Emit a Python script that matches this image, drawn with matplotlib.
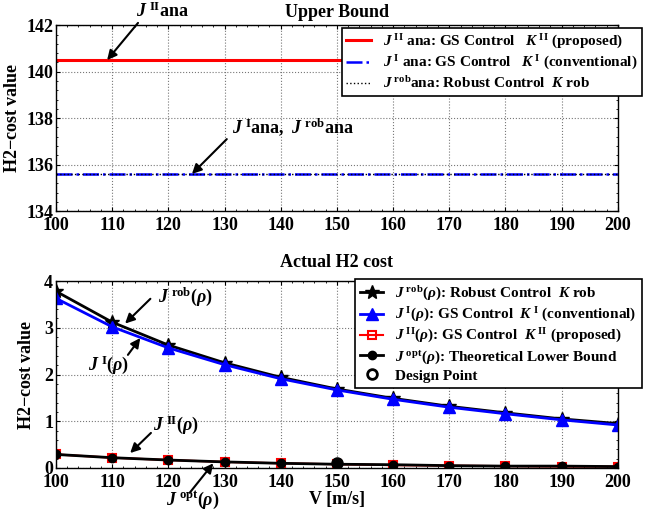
import numpy as np
import matplotlib
matplotlib.use('Agg')
import matplotlib.pyplot as plt
from matplotlib.ticker import AutoMinorLocator

# Fonte parecida com Times em negrito
plt.rcParams['font.family'] = 'Liberation Serif'
plt.rcParams['font.weight'] = 'bold'
plt.rcParams['axes.labelweight'] = 'bold'
plt.rcParams['axes.titleweight'] = 'bold'
plt.rcParams['mathtext.fontset'] = 'custom'
plt.rcParams['mathtext.rm'] = 'Liberation Serif:bold'
plt.rcParams['mathtext.it'] = 'Liberation Serif:bold:italic'
plt.rcParams['mathtext.bf'] = 'Liberation Serif:bold'

# Dados
V = [100, 110, 120, 130, 140, 150, 160, 170, 180, 190, 200]
J_II_ana = 140.5
J_I_ana = 135.6
J_rob_ana = 135.6

J_rob = [3.78, 3.12, 2.63, 2.25, 1.94, 1.69, 1.49, 1.32, 1.18, 1.05, 0.95]
J_I = [3.63, 3.02, 2.57, 2.21, 1.91, 1.67, 1.47, 1.30, 1.16, 1.03, 0.92]
J_II = [0.29, 0.22, 0.17, 0.13, 0.10, 0.08, 0.06, 0.05, 0.04, 0.03, 0.03]
J_opt = [0.29, 0.22, 0.17, 0.13, 0.10, 0.08, 0.07, 0.05, 0.04, 0.04, 0.03]
V_design = [150]
J_design = [0.10]

fig = plt.figure(figsize=(6.61, 5.15), dpi=100)
ax1 = fig.add_axes([0.0847, 0.590, 0.850, 0.361])
ax2 = fig.add_axes([0.0847, 0.0913, 0.850, 0.363])

def formata(ax):
  ax.grid(True, linestyle=':', color='#777777', linewidth=0.8)
  ax.tick_params(labelsize=13, direction='in', length=3, pad=2, top=True, right=True)
  ax.tick_params(axis='x', pad=4)
  ax.xaxis.set_minor_locator(AutoMinorLocator(5))
  ax.yaxis.set_minor_locator(AutoMinorLocator(5))
  ax.tick_params(which='minor', direction='in', length=1.5, top=True, right=True)
  for s in ax.spines.values():
    s.set_linewidth(1.0)
  ax.set_xlim(100, 200)
  ax.set_xticks(np.arange(100, 201, 10))
  ax.set_ylabel('H2$-$cost value', fontsize=13)

def seta(ax, cauda, ponta):
  ax.annotate('', xy=ponta, xytext=cauda, annotation_clip=False,
              arrowprops=dict(arrowstyle='-|>', color='black', lw=1.5,
                              mutation_scale=14, shrinkA=0, shrinkB=0))

# Gráfico superior
n = len(V)
ax1.plot(V, [J_II_ana]*n, color='red', linewidth=2.2,
         label=r'$J^{\;\mathrm{II}}$ ana: GS Control   $K^{\;\mathrm{II}}$ (proposed)')
ax1.plot(V, [J_I_ana]*n, color='blue', linestyle='-.', linewidth=1.8,
         label=r'$J^{\;\mathrm{I}}$ ana: GS Control   $K^{\;\mathrm{I}}$ (conventional)')
ax1.plot(V, [J_rob_ana]*n, color='black', linestyle=':', linewidth=1.0,
         label=r'$J^{\;\mathrm{rob}}$ana: Robust Control  $K$ rob')
ax1.set_ylim(134, 142)
ax1.set_yticks([134, 136, 138, 140, 142])
formata(ax1)
ax1.yaxis.set_label_coords(-0.062, 0.5)
ax1.set_title('Upper Bound', fontsize=13, pad=6)
ax1.legend(loc='upper right', bbox_to_anchor=(1.043, 0.985), fontsize=11, frameon=True,
           fancybox=False, edgecolor='black', framealpha=1, handlelength=1.6,
           borderaxespad=0, labelspacing=0.2, borderpad=0.3).get_frame().set_linewidth(1.2)
ax1.text(119, 142.2, r'$J^{\;\mathrm{II}}$ana', fontsize=13, ha='center', va='bottom')
seta(ax1, (114.6, 142.1), (109.1, 140.5))
ax1.text(131.4, 137.15, r'$J^{\;\mathrm{I}}$ana,  $J^{\;\mathrm{rob}}$ana', fontsize=13,
         ha='left', va='bottom')
seta(ax1, (130.4, 137.1), (124.2, 135.6))

# Gráfico inferior
ax2.plot(V, J_rob, color='black', marker='*', markersize=10, linewidth=2,
         label=r'$J^{\;\mathrm{rob}}(\rho)$: Robust Control  $K$ rob')
ax2.plot(V, J_I, color='blue', marker='^', markersize=8, linewidth=2,
         label=r'$J^{\;\mathrm{I}}(\rho)$: GS Control  $K^{\;\mathrm{I}}$ (conventional)')
ax2.plot(V, J_II, color='red', marker='s', markersize=6, markerfacecolor='none',
         markeredgewidth=1.5, linewidth=1.5,
         label=r'$J^{\;\mathrm{II}}(\rho)$: GS Control  $K^{\;\mathrm{II}}$ (proposed)')
ax2.plot(V, J_opt, color='black', marker='o', markersize=6, linewidth=2,
         label=r'$J^{\;\mathrm{opt}}(\rho)$: Theoretical Lower Bound')
ax2.plot(V_design, J_design, linestyle='none', marker='o', markersize=7,
         markerfacecolor='none', markeredgecolor='black', markeredgewidth=2,
         label='Design Point')
ax2.set_ylim(0, 4)
ax2.set_yticks([0, 1, 2, 3, 4])
formata(ax2)
ax2.yaxis.set_label_coords(-0.037, 0.5)
ax2.set_title('Actual H2 cost', fontsize=13, pad=10)
ax2.set_xlabel('V [m/s]', fontsize=13, labelpad=0)
ax2.legend(loc='upper right', bbox_to_anchor=(1.043, 1.01), fontsize=11, frameon=True,
           fancybox=False, edgecolor='black', framealpha=1, handlelength=1.5,
           borderaxespad=0, labelspacing=0.2, borderpad=0.35).get_frame().set_linewidth(1.2)

ax2.text(118.2, 3.66, r'$J^{\;\mathrm{rob}}(\rho)$', fontsize=13, ha='left', va='center')
seta(ax2, (116.8, 3.62), (112.3, 3.09))
ax2.text(105.7, 2.2, r'$J^{\;\mathrm{I}}(\rho)$', fontsize=13, ha='left', va='center')
seta(ax2, (112.8, 2.42), (115.0, 2.78))
ax2.text(117.3, 0.92, r'$J^{\;\mathrm{II}}(\rho)$', fontsize=13, ha='left', va='center')
seta(ax2, (116.9, 0.75), (113.2, 0.32))
ax2.text(119.6, -0.7, r'$J^{\;\mathrm{opt}}(\rho)$', fontsize=13, ha='left', va='center')
seta(ax2, (123.8, -0.53), (128.0, 0.1))

plt.savefig('out.png', dpi=100)
